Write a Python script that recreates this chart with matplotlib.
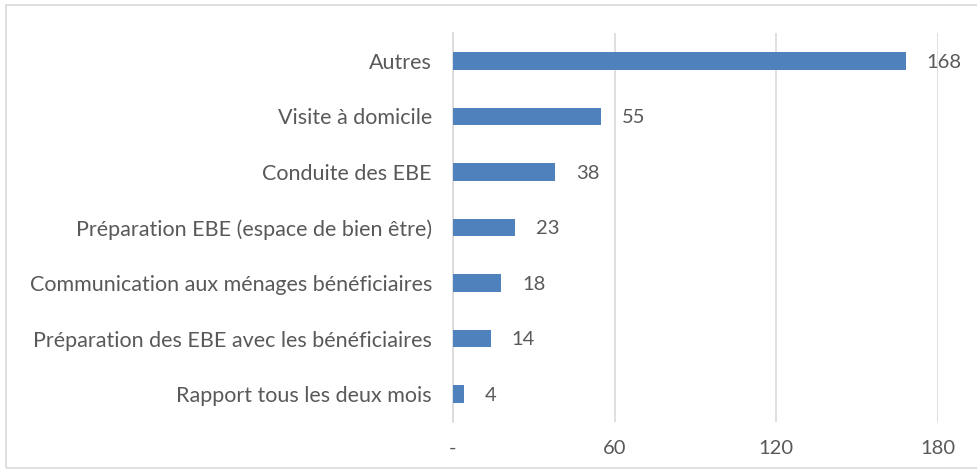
import matplotlib.pyplot as plt
from matplotlib.patches import Rectangle

# category labels, bottom to top as drawn
categories = [
    "Rapport tous les deux mois",
    "Préparation des EBE avec les bénéficiaires",
    "Communication aux ménages bénéficiaires",
    "Préparation EBE (espace de bien être)",
    "Conduite des EBE",
    "Visite à domicile",
    "Autres",
]
counts = [4, 14, 18, 23, 38, 55, 168]
x_ticks = [0, 60, 120, 180]
x_tick_labels = ["-", "60", "120", "180"]

plt.rcParams["font.family"] = ["Lato", "DejaVu Sans"]
text_color = "#595959"
grid_color = "#d9d9d9"
bar_color = "#4f81bd"

fig = plt.figure(figsize=(9.78, 4.73), dpi=100)
ax = fig.add_axes([0.463, 0.108, 0.496, 0.822])

pos = range(len(categories))
ax.barh(pos, counts, height=0.32, color=bar_color, zorder=3)
for y, v in zip(pos, counts):
    ax.annotate(str(v), xy=(v, y), xytext=(15, -1), textcoords="offset points",
                va="center", ha="left", fontsize=14.5, color=text_color)

ax.set_xlim(0, 180)
ax.set_ylim(-0.5, len(categories) - 0.5)
ax.set_xticks(x_ticks)
ax.set_xticklabels(x_tick_labels)
ax.set_yticks(list(pos))
ax.set_yticklabels(categories)
ax.tick_params(axis="both", length=0, labelsize=14.5, labelcolor=text_color)
ax.tick_params(axis="y", labelsize=15.5, pad=15)
ax.tick_params(axis="x", pad=13)
ax.xaxis.grid(True, color=grid_color, linewidth=1.2, zorder=0)
for side in ["top", "right", "bottom"]:
    ax.spines[side].set_visible(False)
ax.spines["left"].set_color(grid_color)
ax.spines["left"].set_linewidth(1.2)

# outer chart border
fig.patches.append(Rectangle((6 / 978, 5 / 473), 1.0, 463 / 473, transform=fig.transFigure,
                             fill=False, edgecolor=grid_color, linewidth=1.2))

fig.savefig("out.png", dpi=100)
